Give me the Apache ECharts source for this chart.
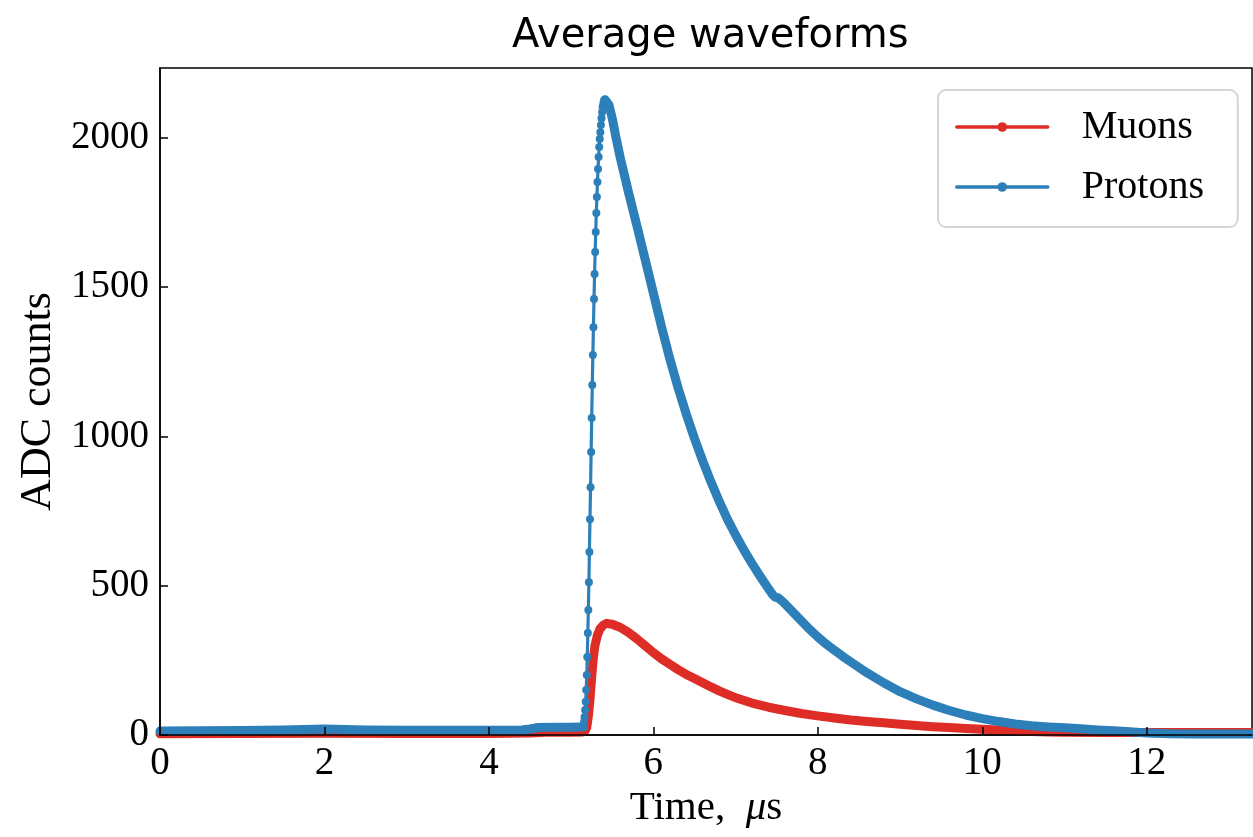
<!DOCTYPE html>
<html>
<head>
<meta charset="utf-8">
<script src="https://cdn.jsdelivr.net/npm/echarts@6/dist/echarts.min.js"></script>
<style>
  html, body { margin: 0; padding: 0; background: #ffffff; }
  #chart { width: 1253px; height: 837px; }
</style>
</head>
<body>
<div id="chart"></div>
<script>
// ---- Data ----
const chartTitle = 'Average waveforms';
const xTicks = [0, 2, 4, 6, 8, 10, 12];
const yTicks = [0, 500, 1000, 1500, 2000];

const muonTime = [0, 1, 2, 3, 4, 4.5, 4.7, 5.0, 5.14, 5.17, 5.19, 5.21, 5.23, 5.25, 5.27, 5.29, 5.32, 5.35, 5.39, 5.43, 5.5, 5.6, 5.7, 5.8, 5.9, 6.0, 6.1, 6.2, 6.3, 6.4, 6.5, 6.6, 6.7, 6.8, 6.9, 7.0, 7.2, 7.4, 7.6, 7.8, 8.0, 8.2, 8.4, 8.6, 8.8, 9.0, 9.2, 9.4, 9.6, 9.8, 10.0, 10.2, 10.4, 10.6, 10.8, 11.0, 11.5, 12.0, 12.5, 13.0, 13.3];
const muonAdc  = [4, 5, 6, 5, 5, 7, 9, 9, 10, 14, 25, 65, 122, 195, 258, 300, 335, 355, 368, 374, 371, 360, 343, 322, 299, 276, 255, 237, 219, 203, 189, 175, 161, 148, 136, 125, 107, 93, 82, 72, 64, 57, 50, 45, 41, 36, 32, 28, 25, 22, 19, 17, 14, 12, 10, 9, 8, 8, 8, 8, 8];

const protonTime = [0, 0.5, 1, 1.5, 2, 2.5, 3, 3.5, 4, 4.4, 4.5, 4.6, 4.8, 5.0, 5.1,
  5.150, 5.157, 5.163, 5.170, 5.177, 5.183, 5.190, 5.196, 5.203, 5.209, 5.216, 5.222, 5.229, 5.236, 5.243, 5.250, 5.257, 5.264, 5.271, 5.278, 5.285, 5.292, 5.299, 5.306, 5.313, 5.320, 5.327, 5.334, 5.341, 5.348, 5.355, 5.362, 5.369, 5.376, 5.383, 5.392, 5.402, 5.412,
  5.43, 5.46, 5.5, 5.55, 5.6, 5.7, 5.8, 5.9, 6.0, 6.1, 6.2, 6.3, 6.4, 6.5, 6.6, 6.7, 6.8, 6.9, 7.0, 7.1, 7.2, 7.3, 7.4, 7.45, 7.48, 7.52, 7.56, 7.6, 7.7, 7.8, 7.9, 8.0, 8.1, 8.2, 8.3, 8.4, 8.6, 8.8, 9.0, 9.2, 9.4, 9.6, 9.8, 10.0, 10.2, 10.4, 10.6, 10.8, 11.0, 11.2, 11.4, 11.6, 11.8, 12.0, 12.3, 12.6, 13.0, 13.3];
const protonAdc = [13, 14, 15, 17, 20, 17, 16, 16, 16, 17, 20, 25, 26, 26, 27,
  27, 44, 60, 84, 111, 151, 201, 261, 342, 419, 512, 613, 723, 830, 948, 1062, 1172, 1273, 1366, 1460, 1544, 1618, 1685, 1748, 1802, 1852, 1896, 1936, 1969, 1996, 2019, 2043, 2066, 2086, 2104, 2118, 2126, 2128,
  2125, 2110, 2065, 1995, 1930, 1815, 1705, 1593, 1480, 1366, 1260, 1163, 1075, 993, 918, 848, 783, 723, 670, 620, 574, 531, 490, 470, 462, 459, 450, 439, 411, 382, 354, 328, 305, 284, 264, 245, 208, 175, 145, 121, 100, 82, 67, 55, 45, 37, 31, 27, 24, 21, 17, 14, 11, 7, 4, 3, 3, 3];

// rise of the proton pulse is drawn with visible sample markers
const riseStart = 5.15, riseEnd = 5.412;

// ---- Build series data ----
const muonData = muonTime.map((t, i) => [t, muonAdc[i]]);
const protonBody = [];
const protonRise = [];
let gapAdded = false;
protonTime.forEach((t, i) => {
  const p = [t, protonAdc[i]];
  if (t >= riseStart && t <= riseEnd) protonRise.push(p);
  if (t <= riseStart || t >= riseEnd) {
    protonBody.push(p);
  } else if (!gapAdded) {
    protonBody.push([t, null]);
    gapAdded = true;
  }
});

const RED = '#de2d26', BLUE = '#2c7fb8';
const SERIF = '"Liberation Serif", "DejaVu Serif", serif';

const chart = echarts.init(document.getElementById('chart'), null, { renderer: 'canvas' });
chart.setOption({
  animation: false,
  backgroundColor: '#ffffff',
  title: {
    text: chartTitle,
    left: 507, top: 12,
    textStyle: { fontFamily: '"DejaVu Sans", sans-serif', fontSize: 40, fontWeight: 'normal', color: '#000' }
  },
  grid: {
    left: 160, right: 1, top: 68, bottom: 102,
    show: true, borderColor: '#000', borderWidth: 1.5, backgroundColor: 'transparent'
  },
  legend: {
    left: 938, top: 90, orient: 'vertical',
    padding: [17, 17, 20, 17],
    itemGap: 20, itemWidth: 91, itemHeight: 12,
    borderColor: '#d6d6d6', borderWidth: 2, borderRadius: 8, backgroundColor: 'rgba(255,255,255,0.85)',
    lineStyle: { width: 3.5 },
    data: ['Muons', 'Protons'],
    textStyle: { fontFamily: SERIF, fontSize: 40, lineHeight: 40, color: '#000', padding: [0, 0, 0, 29], width: 139 }
  },
  xAxis: {
    type: 'value', min: 0, max: 13.28, interval: 2, z: 5,
    name: '{a|Time,  }{i|μ}{a|s}', nameLocation: 'middle', nameGap: 46,
    nameTextStyle: {
      rich: {
        a: { fontFamily: SERIF, fontSize: 41, color: '#000' },
        i: { fontFamily: SERIF, fontSize: 41, fontStyle: 'italic', color: '#000' }
      }
    },
    axisLine: { show: true, lineStyle: { color: '#000', width: 1.5 } },
    axisTick: { show: true, inside: true, length: 8, lineStyle: { color: '#000', width: 1.5 } },
    splitLine: { show: false },
    axisLabel: {
      margin: 9, fontFamily: SERIF, fontSize: 39, color: '#000',
      showMaxLabel: false,
      formatter: v => (xTicks.indexOf(Math.round(v * 1000) / 1000) >= 0 ? String(v) : '')
    }
  },
  yAxis: {
    type: 'value', min: 0, max: 2234, interval: 500, z: 5,
    name: 'ADC counts', nameLocation: 'middle', nameGap: 100, nameRotate: 90,
    nameTextStyle: { fontFamily: SERIF, fontSize: 44, color: '#000' },
    axisLine: { show: true, lineStyle: { color: '#000', width: 1.5 } },
    axisTick: { show: true, inside: true, length: 8, lineStyle: { color: '#000', width: 1.5 } },
    splitLine: { show: false },
    axisLabel: {
      margin: 11, fontFamily: SERIF, fontSize: 39, color: '#000',
      showMaxLabel: false,
      formatter: v => (yTicks.indexOf(v) >= 0 ? String(v) : '')
    }
  },
  series: [
    {
      name: 'Muons', type: 'line', data: muonData, symbol: 'none', smooth: false,
      color: RED, lineStyle: { color: RED, width: 9, cap: 'round', join: 'round' }
    },
    {
      name: 'Protons', type: 'line', data: protonBody, symbol: 'none', smooth: false, connectNulls: false,
      color: BLUE, lineStyle: { color: BLUE, width: 9, cap: 'round', join: 'round' }
    },
    {
      name: 'Protons', type: 'line', data: protonRise, symbol: 'circle', symbolSize: 8, showSymbol: true,
      color: BLUE, itemStyle: { color: BLUE }, lineStyle: { color: BLUE, width: 3.2 }
    }
  ]
});
</script>
</body>
</html>
